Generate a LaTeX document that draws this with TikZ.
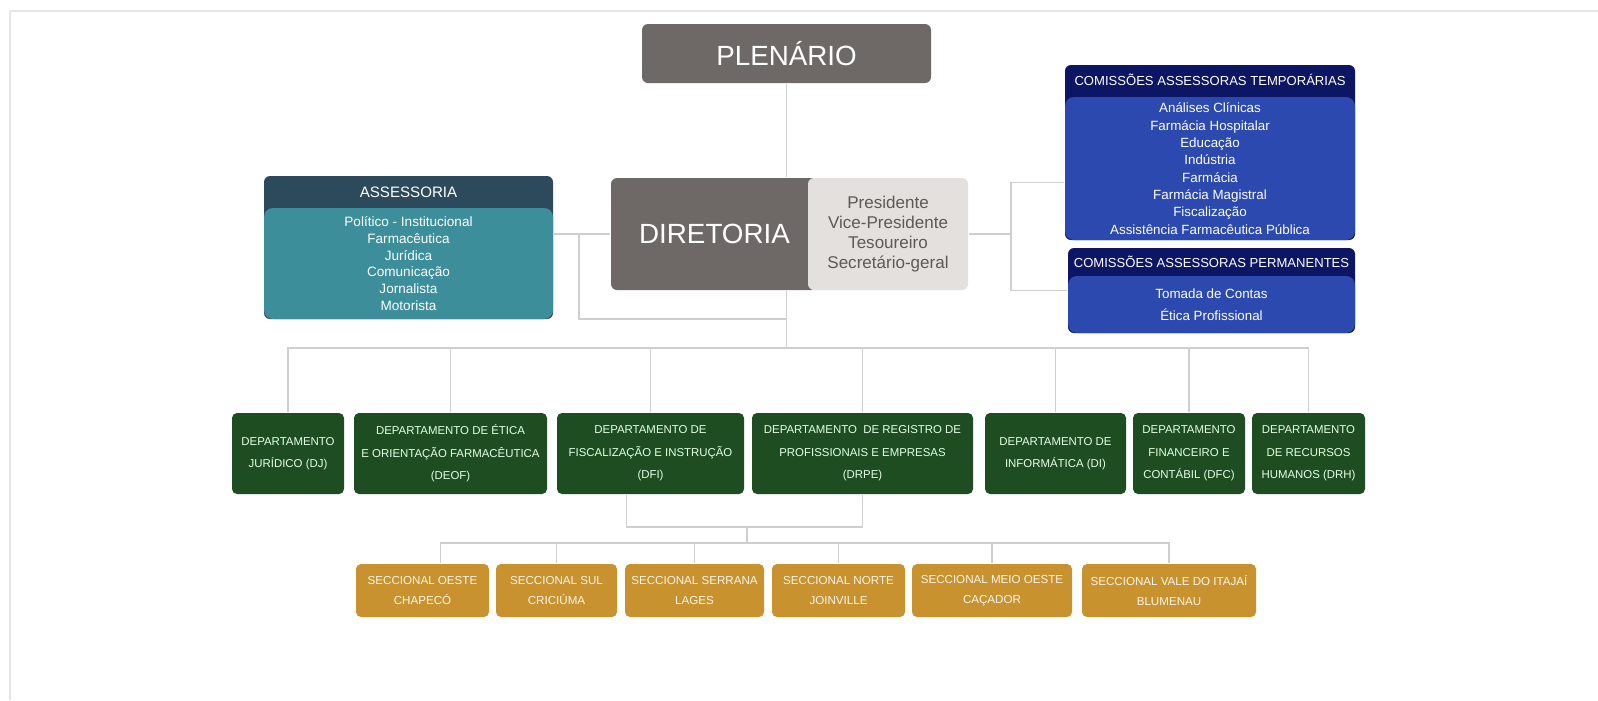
\documentclass[tikz,border=0pt]{standalone}
\usepackage{fontspec}
\setmainfont{Liberation Sans}

\definecolor{boardgray}{HTML}{6E6966}
\definecolor{infogray}{HTML}{E4E0DE}
\definecolor{infotext}{HTML}{5E5957}
\definecolor{asshead}{HTML}{2C4A5C}
\definecolor{assbody}{HTML}{3B8E9A}
\definecolor{comhead}{HTML}{0C1664}
\definecolor{combody}{HTML}{2B49AE}
\definecolor{deptgreen}{HTML}{1D4D21}
\definecolor{secgold}{HTML}{C8922F}
\definecolor{linegray}{HTML}{CFCFCF}
\definecolor{framegray}{HTML}{E6E6E6}

\begin{document}
\begin{tikzpicture}[x=0.1mm, y=-0.1mm,
    all/.style={inner sep=0pt, align=center, text=white},
    board/.style={all, rounded corners=0.6mm, fill=boardgray, font=\fontsize{7.9}{9}\selectfont},
    headbox/.style={all, rounded corners=0.6mm},
    bodybox/.style={all, rounded corners=0.9mm, anchor=south},
    title/.style={all, font=\fontsize{3.72}{5}\selectfont},
    dept/.style={all, rounded corners=0.5mm, fill=deptgreen, minimum height=8.1mm,
        text=white!90!green, font=\fontsize{3.25}{6.4}\selectfont},
    sec/.style={all, rounded corners=0.5mm, fill=secgold, minimum height=5.3mm,
        text=white!92!orange, font=\fontsize{3.3}{5.8}\selectfont},
    link/.style={draw=linegray, line width=0.15mm},
]
    \useasboundingbox (0,0) rectangle (1598,700);
    \draw[framegray, line width=0.2mm] (1598,11) -- (10,11) -- (10,700);

    \node [board, minimum width=28.9mm, minimum height=5.9mm] (plen) at (786.5,53.5) {PLENÁRIO};
    \node [board, minimum width=20.7mm, minimum height=11.2mm] (dir) at (714.5,234) {DIRETORIA};
    \node [all, rounded corners=0.6mm, fill=infogray, text=infotext, minimum width=16mm,
        minimum height=11.2mm, font=\fontsize{4.85}{5.7}\selectfont] (dirinfo) at (888,234)
        {Presidente\\Vice-Presidente\\Tesoureiro\\Secretário-geral};

    \node [headbox, fill=asshead, minimum width=28.9mm, minimum height=14.3mm] (ass) at (408.5,247.5) {};
    \node [bodybox, fill=assbody, minimum width=28.9mm, minimum height=11.1mm,
        font=\fontsize{3.86}{4.8}\selectfont] (assbody) at (ass.south)
        {Político - Institucional\\Farmacêutica\\Jurídica\\Comunicação\\Jornalista\\Motorista};
    \node [title, font=\fontsize{4.3}{5}\selectfont] (asstitle) at (408.5,192) {ASSESSORIA};

    \node [headbox, fill=comhead, minimum width=29mm, minimum height=17.5mm] (temp) at (1210,152.5) {};
    \node [bodybox, fill=combody, minimum width=29mm, minimum height=14.3mm,
        font=\fontsize{3.8}{4.93}\selectfont] (tempbody) at (temp.south)
        {Análises Clínicas\\Farmácia Hospitalar\\Educação\\Indústria\\Farmácia\\Farmácia Magistral\\Fiscalização\\Assistência Farmacêutica Pública};
    \node [title] (temptitle) at (1210,80) {COMISSÕES ASSESSORAS TEMPORÁRIAS};

    \node [headbox, fill=comhead, minimum width=28.7mm, minimum height=8.5mm] (perm) at (1211.5,290.5) {};
    \node [bodybox, fill=combody, minimum width=28.7mm, minimum height=5.7mm,
        font=\fontsize{3.8}{6.1}\selectfont] (permbody) at (perm.south)
        {Tomada de Contas\\Ética Profissional};
    \node [title] (permtitle) at (1211.5,262) {COMISSÕES ASSESSORAS PERMANENTES};

    \node [dept, minimum width=11.2mm] (dj) at (288,453.5) {DEPARTAMENTO\\JURÍDICO (DJ)};
    \node [dept, minimum width=19.3mm] (deof) at (450.5,453.5) {DEPARTAMENTO DE ÉTICA\\E ORIENTAÇÃO FARMACÊUTICA\\(DEOF)};
    \node [dept, minimum width=18.7mm] (dfi) at (650.5,453.5) {DEPARTAMENTO DE\\FISCALIZAÇÃO E INSTRUÇÃO\\(DFI)};
    \node [dept, minimum width=22.1mm] (drpe) at (862.5,453.5) {DEPARTAMENTO \ DE REGISTRO DE\\PROFISSIONAIS E EMPRESAS\\(DRPE)};
    \node [dept, minimum width=14.1mm] (di) at (1055.5,453.5) {DEPARTAMENTO DE\\INFORMÁTICA (DI)};
    \node [dept, minimum width=11.2mm] (dfc) at (1189,453.5) {DEPARTAMENTO\\FINANCEIRO E\\CONTÁBIL (DFC)};
    \node [dept, minimum width=11.3mm] (drh) at (1308.5,453.5) {DEPARTAMENTO\\DE RECURSOS\\HUMANOS (DRH)};

    \node [sec, minimum width=13.3mm] (oeste) at (422.5,590.5) {SECCIONAL OESTE\\CHAPECÓ};
    \node [sec, minimum width=12.1mm] (sul) at (556.5,590.5) {SECCIONAL SUL\\CRICIÚMA};
    \node [sec, minimum width=13.9mm] (serrana) at (694.5,590.5) {SECCIONAL SERRANA\\LAGES};
    \node [sec, minimum width=13.3mm] (norte) at (838.5,590.5) {SECCIONAL NORTE\\JOINVILLE};
    \node [sec, minimum width=16mm] (meio) at (992,590.5) {SECCIONAL MEIO OESTE\\CAÇADOR};
    \node [sec, minimum width=17.4mm] (vale) at (1169,590.5) {SECCIONAL VALE DO ITAJAÍ\\BLUMENAU};

    \coordinate (bus) at (786.5,348);
    \coordinate (ajoin) at (579,319);
    \coordinate (cjoin) at (1011,234);
    \coordinate (brk) at (747,527);
    \coordinate (sbus) at (747,543);

    \draw [link] (plen.south) -- (plen.south |- dir.north);
    \draw [link] (plen.south |- dir.south) -- (bus);
    \draw [link] (ass.east |- dir.west) -- (dir.west);
    \draw [link] (ajoin |- dir.west) -- (ajoin) -- (ajoin -| bus);
    \draw [link] (dirinfo.east) -- (cjoin);
    \draw [link] ([yshift=-3mm]temp.west) -| (cjoin) |- (perm.west);
    \draw [link] (dj.north) |- (bus) -| (drh.north);
    \foreach \d in {deof,dfi,drpe,di,dfc}
        \draw [link] (\d.north) -- (\d.north |- bus);
    \draw [link] ([xshift=-2.4mm]dfi.south) |- (brk) -| (drpe.south);
    \draw [link] (brk) -- (sbus);
    \draw [link] ([xshift=1.8mm]oeste.north) |- (sbus) -| (vale.north);
    \foreach \s in {sul,serrana,norte,meio}
        \draw [link] (\s.north) -- (\s.north |- sbus);
\end{tikzpicture}
\end{document}
